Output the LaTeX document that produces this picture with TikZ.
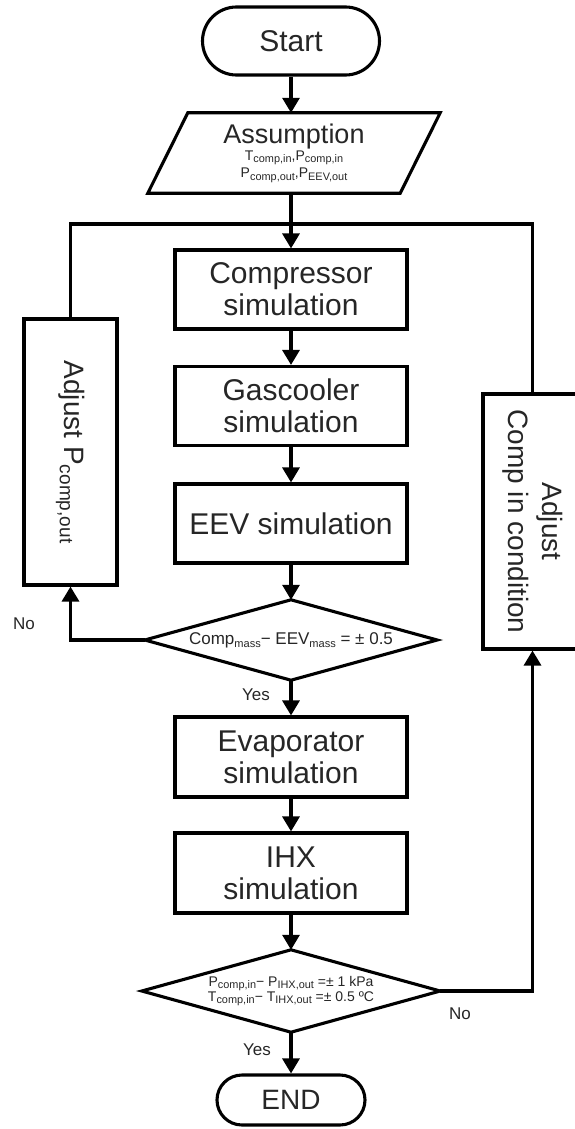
\documentclass[tikz,border=0pt]{standalone}
\usepackage{fontspec}
\setmainfont{Liberation Sans}
\usepackage{graphicx}
\usetikzlibrary{arrows.meta}
\newcommand{\dn}[2][0.78]{\raisebox{-0.32ex}{\scalebox{#1}{#2}}}
\tikzset{
  box/.style={draw, line width=3.1pt, minimum width=232pt, minimum height=79pt, inner sep=0pt, align=center, font=\fontsize{30}{32}\selectfont, text=black!85},
  term/.style={draw, line width=3.1pt, inner sep=0pt, text=black!85},
  ghost/.style={inner sep=0pt, align=center, text=black!85},
  arr/.style={line width=3.1pt, -{Triangle[length=15pt,width=17pt]}},
  link/.style={line width=3.1pt},
  lbl/.style={inner sep=0pt, font=\fontsize{17}{19}\selectfont, text=black!85}
}
\begin{document}
\begin{tikzpicture}[x=1pt,y=-1pt]
\useasboundingbox (0,0) rectangle (575,1129);
% terminals
\node[term, rounded corners=34pt, minimum width=177pt, minimum height=68pt, font=\fontsize{30}{32}\selectfont] (start) at (291,41) {Start};
\node[term, rounded corners=25pt, minimum width=148pt, minimum height=50pt, font=\fontsize{28}{30}\selectfont] (endn) at (291,1100) {END};
% assumption (parallelogram)
\node[ghost, minimum width=252pt, minimum height=80pt] (assume) at (294,153)
  {{\fontsize{27}{27}\selectfont Assumption}\\[1pt]
   {\fontsize{14}{17}\selectfont T\dn{comp,in},P\dn{comp,in}}\\[2pt]
   {\fontsize{14}{17}\selectfont P\dn{comp,out},P\dn{EEV,out}}};
\draw[link] ([xshift=20pt]assume.north west) -- ([xshift=20pt]assume.north east)
  -- ([xshift=-20pt]assume.south east) -- ([xshift=-20pt]assume.south west) -- cycle;
% process boxes
\node[box] (comp) at (291,289.5) {Compressor\\simulation};
\node[box] (gas) at (291,406) {Gascooler\\simulation};
\node[box] (eev) at (291,523.5) {EEV simulation};
\node[box, minimum height=80pt] (evap) at (291,757) {Evaporator\\simulation};
\node[box, minimum height=80pt] (ihx) at (291,873) {IHX\\simulation};
% decisions
\node[ghost, minimum width=292pt, minimum height=80pt, font=\fontsize{17}{19}\selectfont] (d1) at (291,640)
  {Comp\dn[0.65]{mass}− EEV\dn[0.65]{mass} = ± 0.5};
\draw[link] (d1.north) -- (d1.east) -- (d1.south) -- (d1.west) -- cycle;
\node[ghost, minimum width=298pt, minimum height=82pt, font=\fontsize{14}{15}\selectfont] (d2) at (291,991)
  {P\dn{comp,in}− P\dn{IHX,out} =± 1 kPa\\T\dn{comp,in}− T\dn{IHX,out} =± 0.5 ºC};
\draw[link] (d2.north) -- (d2.east) -- (d2.south) -- (d2.west) -- cycle;
% adjust boxes
\node[term, minimum width=93pt, minimum height=266pt, font=\fontsize{28}{30}\selectfont] (lbox) at (70.5,452)
  {\rotatebox{-90}{Adjust P\dn[0.68]{comp,out}}};
\node[term, minimum width=99pt, minimum height=255pt, font=\fontsize{28}{34}\selectfont] (rbox) at (532.5,521.5)
  {\rotatebox{-90}{\begin{tabular}{@{}c@{}}Adjust\\[0pt]Comp in condition\end{tabular}}};
% loop line
\coordinate (loop) at (291,224);
\draw[link] (lbox.north) |- (loop) -| (rbox.north);
% connectors
\draw[arr] (start.south) -- (start.south |- assume.north);
\draw[arr] (comp.north |- assume.south) -- (comp.north);
\draw[arr] (comp) -- (gas);
\draw[arr] (gas) -- (eev);
\draw[arr] (eev) -- (d1.north);
\draw[arr] (d1.south) -- (evap);
\draw[arr] (evap) -- (ihx);
\draw[arr] (ihx) -- (d2.north);
\draw[arr] (d2.south) -- (endn);
\draw[arr] (d1.west) -| (lbox.south);
\draw[arr] (d2.east) -| (rbox.south);
% labels
\node[lbl] (yes1) at (256,695) {Yes};
\node[lbl] (yes2) at (257,1050) {Yes};
\node[lbl] (no1) at (24,624) {No};
\node[lbl] (no2) at (460,1014) {No};
\end{tikzpicture}
\end{document}
